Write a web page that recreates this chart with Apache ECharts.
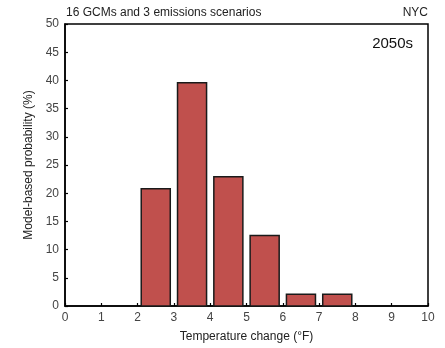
<!DOCTYPE html>
<html><head><meta charset="utf-8">
<script src="https://cdn.jsdelivr.net/npm/echarts@6/dist/echarts.min.js"></script>
<style>html,body{margin:0;padding:0;background:#fff}#c{width:445px;height:348px}</style>
</head><body><div id="c"></div>
<script>
var binStarts = [2, 3, 4, 5, 6, 7];
var binEnds = [3, 4, 5, 6, 7, 8];
var probabilities = [20.8, 39.6, 22.9, 12.5, 2.1, 2.1];
var xTicks = [0,1,2,3,4,5,6,7,8,9,10];
var yTicks = [0,5,10,15,20,25,30,35,40,45,50];

var data = binStarts.map(function(s,i){return [s, binEnds[i], probabilities[i]];});
var chart = echarts.init(document.getElementById('c'), null, {renderer:'canvas'});
var font = 'Liberation Sans, Arial, sans-serif';
chart.setOption({
  animation:false,
  grid:{left:65, right:17, top:24, bottom:38, show:true, borderColor:'#000', borderWidth:1.5, backgroundColor:'transparent'},
  xAxis:{type:'value', min:0, max:10, interval:1,
    name:'Temperature change (°F)', nameLocation:'middle', nameGap:25,
    nameTextStyle:{color:'#222', fontSize:12, fontFamily:font},
    axisLine:{show:true, lineStyle:{color:'#000', width:1.5}},
    axisTick:{show:true, inside:true, length:3, lineStyle:{color:'#000', width:1.2}},
    axisLabel:{color:'#444', fontSize:12, fontFamily:font, margin:6},
    splitLine:{show:false}},
  yAxis:{type:'value', min:0, max:50, interval:5,
    name:'Model-based probability (%)', nameLocation:'middle', nameGap:27, nameRotate:90,
    nameTextStyle:{color:'#222', fontSize:12, fontFamily:font},
    axisLine:{show:true, lineStyle:{color:'#000', width:1.5}},
    axisTick:{show:true, inside:true, length:3, lineStyle:{color:'#000', width:1.2}},
    axisLabel:{color:'#444', fontSize:12, fontFamily:font, margin:6},
    splitLine:{show:false}},
  graphic:[
    {type:'text', left:66, top:7, style:{text:'16 GCMs and 3 emissions scenarios', fill:'#222', font:'12px '+font}},
    {type:'text', right:17, top:7, style:{text:'NYC', fill:'#222', font:'12px '+font}},
    {type:'text', right:32, top:36, style:{text:'2050s', fill:'#111', font:'15px '+font}}
  ],
  series:[{type:'custom', data:data, encode:{x:[0,1], y:2},
    renderItem:function(params, api){
      var gap = 0.1;
      var p0 = api.coord([api.value(0)+gap, api.value(2)]);
      var p1 = api.coord([api.value(1)-gap, 0]);
      return {type:'rect', shape:{x:p0[0], y:p0[1], width:p1[0]-p0[0], height:p1[1]-p0[1]},
        style:{fill:'#c0504d', stroke:'#1a1a1a', lineWidth:1.5}};
    }}]
});
</script></body></html>
